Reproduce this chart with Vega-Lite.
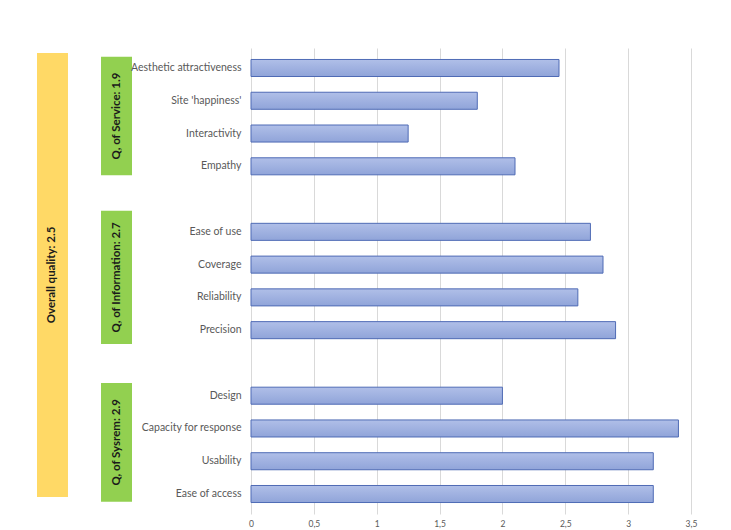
{
  "$schema": "https://vega.github.io/schema/vega-lite/v6.json",
  "background": "white",
  "padding": {"left": 37, "top": 48, "right": 10, "bottom": 2},
  "bounds": "flush",
  "spacing": 119,
  "config": {"view": {"stroke": null}, "font": "Lato"},
  "datasets": {
    "bars": [
      {"item": "Aesthetic attractiveness", "value": 2.45},
      {"item": "Site 'happiness'", "value": 1.8},
      {"item": "Interactivity", "value": 1.25},
      {"item": "Empathy", "value": 2.1},
      {"item": "Ease of use", "value": 2.7},
      {"item": "Coverage", "value": 2.8},
      {"item": "Reliability", "value": 2.6},
      {"item": "Precision", "value": 2.9},
      {"item": "Design", "value": 2.0},
      {"item": "Capacity for response", "value": 3.4},
      {"item": "Usability", "value": 3.2},
      {"item": "Ease of access", "value": 3.2}
    ],
    "boxes": [
      {"col": "overall", "label": "Overall quality: 2.5", "start": -0.2, "end": 13.35},
      {"col": "group", "label": "Q, of Service: 1.9", "start": -0.08, "end": 3.53},
      {"col": "group", "label": "Q, of Information:  2.7", "start": 4.62, "end": 8.68},
      {"col": "group", "label": "Q, of Sysrem: 2.9", "start": 9.87, "end": 13.5}
    ]
  },
  "resolve": {"scale": {"x": "independent", "y": "independent"}},
  "hconcat": [
    {
      "width": 95,
      "height": 466,
      "data": {"name": "boxes"},
      "layer": [
        {
          "mark": {"type": "rect"},
          "encoding": {
            "x": {"field": "col", "type": "nominal", "axis": null,
                  "scale": {"domain": ["overall", "group"], "paddingInner": 0.516, "paddingOuter": 0}},
            "y": {"field": "start", "type": "quantitative", "axis": null,
                  "scale": {"domain": [-0.35, 13.87], "reverse": true, "nice": false, "zero": false}},
            "y2": {"field": "end"},
            "color": {"field": "col", "type": "nominal", "legend": null,
                      "scale": {"domain": ["overall", "group"], "range": ["#FFD966", "#92D050"]}}
          }
        },
        {
          "transform": [{"calculate": "(datum.start + datum.end) / 2", "as": "mid"}],
          "mark": {"type": "text", "angle": 270, "align": "center", "baseline": "middle",
                   "fontWeight": "bold", "fontSize": 11.5, "color": "#1a1a1a"},
          "encoding": {
            "x": {"field": "col", "type": "nominal", "axis": null},
            "y": {"field": "mid", "type": "quantitative", "axis": null},
            "text": {"field": "label"}
          }
        }
      ]
    },
    {
      "width": 440,
      "height": 466,
      "data": {"name": "bars"},
      "mark": {"type": "bar", "stroke": "#4f6bb5", "strokeWidth": 1,
               "color": {"gradient": "linear", "x1": 0, "y1": 0, "x2": 0, "y2": 1,
                         "stops": [{"offset": 0, "color": "#b0bfe8"}, {"offset": 1, "color": "#90a4d9"}]}},
      "encoding": {
        "y": {"field": "item", "type": "nominal", "title": null,
              "scale": {"domain": ["Aesthetic attractiveness", "Site 'happiness'", "Interactivity", "Empathy", " ",
                                   "Ease of use", "Coverage", "Reliability", "Precision", "  ",
                                   "Design", "Capacity for response", "Usability", "Ease of access"],
                        "paddingInner": 0.48, "paddingOuter": 0.35},
              "axis": {"domain": false, "ticks": false, "labelPadding": 10, "labelFontSize": 10.5,
                       "labelColor": "#595959", "labelFont": "Lato"}},
        "x": {"field": "value", "type": "quantitative", "title": null,
              "scale": {"domain": [0, 3.5], "nice": false},
              "axis": {"values": [0, 0.5, 1, 1.5, 2, 2.5, 3, 3.5], "domain": false, "ticks": false,
                       "grid": true, "gridColor": "#d9d9d9", "gridWidth": 1,
                       "labelExpr": "replace(toString(datum.value), '.', ',')",
                       "labelFontSize": 8.5, "labelColor": "#595959", "labelPadding": 5,
                       "labelFlush": false}}
      }
    }
  ]
}
